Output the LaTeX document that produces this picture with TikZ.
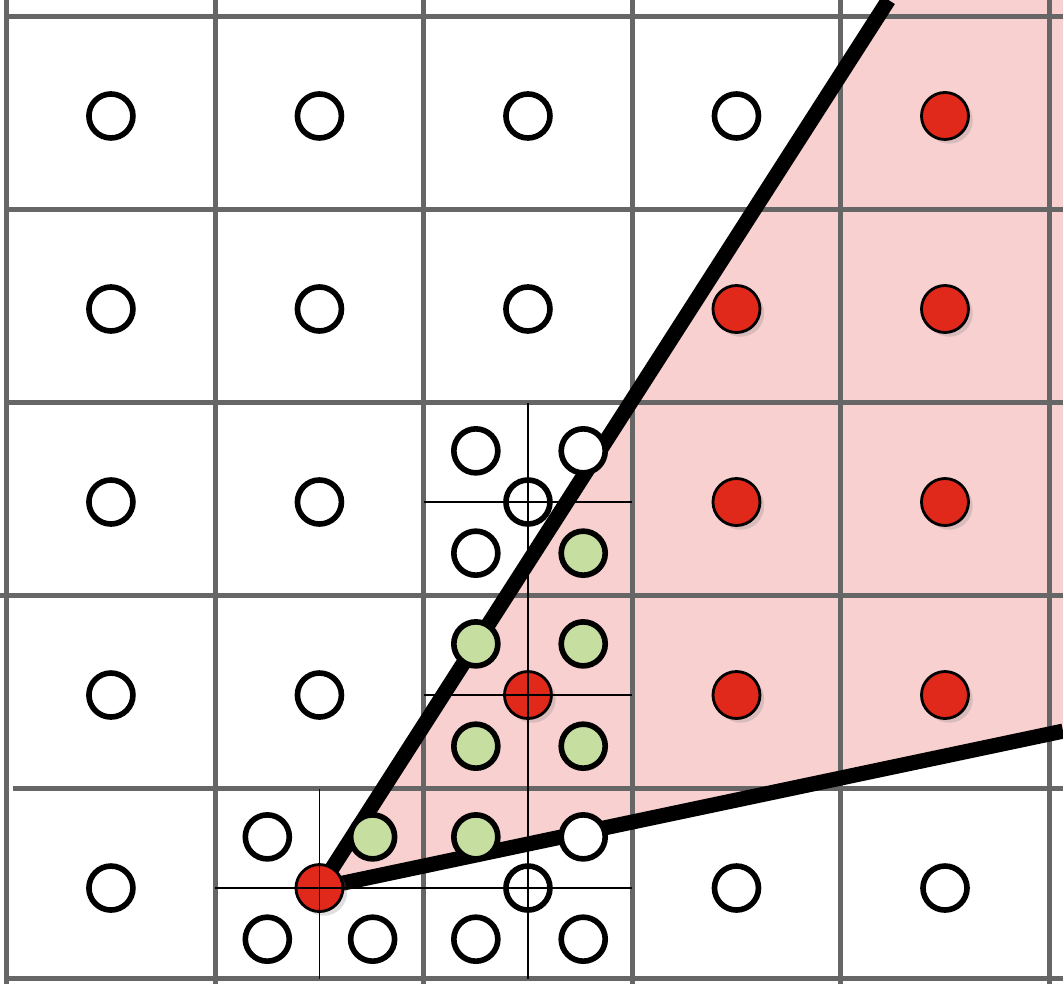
\documentclass[tikz,border=0pt]{standalone}
\usetikzlibrary{shadows}
\definecolor{gridgray}{HTML}{666666}
\definecolor{covpink}{HTML}{F8D0D0}
\definecolor{hitred}{HTML}{E0291B}
\definecolor{subgreen}{HTML}{C6DFA1}
\tikzset{
	smp/.style={circle,draw=black,line width=1.6pt,inner sep=0pt,minimum size=0.44cm},
	smpout/.style={smp,fill=white},
	smpsub/.style={smp,fill=subgreen},
	smpin/.style={circle,draw=black,line width=0.8pt,inner sep=0pt,minimum size=0.47cm,fill=hitred,
		drop shadow={shadow xshift=1.2pt,shadow yshift=-1.2pt,opacity=0.25}},
	gridline/.style={draw=gridgray,line width=1.4pt},
	subline/.style={draw=black,line width=0.45pt},
}
\begin{document}
\begin{tikzpicture}[x=2.085cm,y=1.93cm]
	\useasboundingbox (-0.532,-0.497) rectangle (4.566,4.601);
	\coordinate (o) at (1,0);
	\coordinate (a) at (3.729,4.601);
	\coordinate (b) at (4.566,0.813);
	\path[fill=covpink] (o) -- (a) -- (4.566,4.601) -- (b) -- cycle;
	% pixel grid
	\foreach \i in {0,...,5}
		\draw[gridline] (\i-0.5,-0.497) -- (\i-0.5,4.601);
	\foreach \y/\s in {-0.47/-0.5,0.515/-0.47,1.515/-0.532,2.515/-0.5,3.515/-0.5,4.515/-0.5}
		\draw[gridline] (\s,\y) -- (4.566,\y);
	\draw[line width=4.3pt,line join=round] (a) -- (o) -- (b);
	% pixel centers
	\foreach \i/\j in {0/0,0/1,0/2,0/3,0/4,1/1,1/2,1/3,1/4,2/3,2/4,3/4,3/0,4/0}
		\node[smpout] (m\i\j) at (\i,\j) {};
	\foreach \i/\j in {4/4,3/3,4/3,3/2,4/2,3/1,4/1}
		\node[smpin] (m\i\j) at (\i,\j) {};
	% subsamples
	\foreach \x/\y/\n in {0.75/0.265/a,0.75/-0.265/b,1.255/-0.265/c,2.265/0.265/d,1.75/-0.265/e,2.265/-0.265/f,1.75/2.265/g,2.265/2.265/h,1.75/1.735/k}
		\node[smpout] (s\n) at (\x,\y) {};
	\foreach \x/\y/\n in {1.255/0.265/p,1.75/0.265/q,1.75/0.735/r,2.265/0.735/s,1.75/1.265/t,2.265/1.265/u,2.265/1.735/v}
		\node[smpsub] (s\n) at (\x,\y) {};
	\node[smp] (m20) at (2,0) {};
	\node[smp] (m22) at (2,2) {};
	\node[smpin] (m10) at (1,0) {};
	\node[smpin] (m21) at (2,1) {};
	\draw[subline] (1,-0.47) -- (1,0.515);
	\draw[subline] (2,-0.47) -- (2,2.515);
	\draw[subline] (0.5,0) -- (2.5,0);
	\draw[subline] (1.5,1) -- (2.5,1);
	\draw[subline] (1.5,2) -- (2.5,2);
\end{tikzpicture}
\end{document}
